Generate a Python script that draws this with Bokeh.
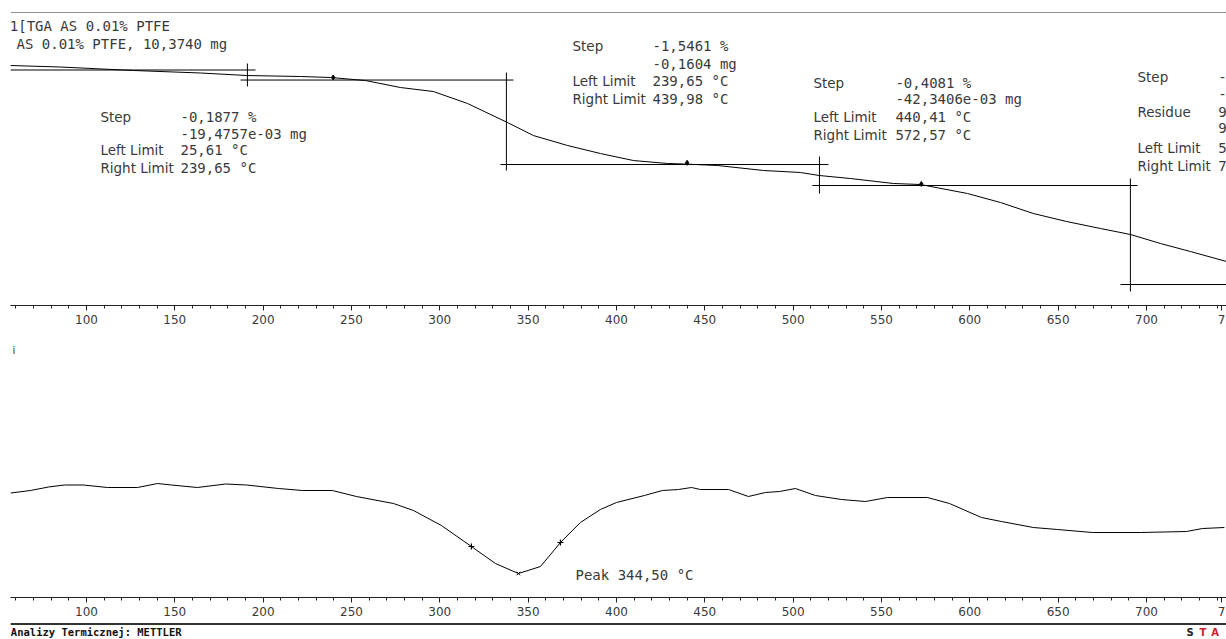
from bokeh.plotting import figure
from bokeh.layouts import column
from bokeh.models import Range1d, FixedTicker, Span
from bokeh.core.properties import value
from bokeh.embed import file_html
from bokeh.resources import INLINE

# ---------------- data ----------------
# TGA curve: temperature (°C) and mass (%)
tga_T = [57.0, 85.3, 126.6, 164.5, 191.1, 221.1, 238.1, 257.9, 277.7, 296.4,
         315.7, 338.3, 353.0, 372.3, 390.9, 409.6, 428.9, 437.9, 457.2, 483.2,
         504.1, 514.9, 532.4, 556.8, 572.1, 598.7, 617.4, 636.0, 654.7, 673.9,
         690.9, 707.9, 724.9, 745.3]
tga_mass = [100.000, 99.972, 99.908, 99.862, 99.815, 99.797, 99.779, 99.723, 99.594, 99.520,
            99.299, 98.948, 98.708, 98.524, 98.376, 98.247, 98.192, 98.183, 98.155, 98.063,
            98.026, 97.970, 97.915, 97.823, 97.804, 97.638, 97.472, 97.269, 97.122, 96.993,
            96.882, 96.716, 96.568, 96.384]

# DTG curve: temperature (°C) and derivative signal (arb. units)
dtg_T = [57.0, 68.3, 78.5, 87.6, 98.3, 111.9, 128.9, 140.2, 148.1, 162.8,
         178.7, 190.6, 208.7, 222.3, 239.2, 252.8, 273.8, 285.1, 300.9, 317.9,
         331.5, 344.5, 357.0, 368.3, 379.6, 390.9, 400.0, 415.8, 426.0, 435.1,
         442.5, 447.5, 463.4, 474.7, 484.3, 492.3, 501.3, 512.6, 527.4, 540.9,
         553.4, 576.0, 588.5, 606.6, 617.9, 636.0, 649.6, 669.4, 696.6, 722.6,
         731.7, 744.1]
dtg_v = [-0.125, -0.10, -0.065, -0.045, -0.045, -0.07, -0.07, -0.03, -0.045, -0.07,
         -0.035, -0.045, -0.08, -0.10, -0.10, -0.16, -0.23, -0.30, -0.45, -0.66,
         -0.83, -0.93, -0.86, -0.62, -0.42, -0.29, -0.22, -0.15, -0.10, -0.09,
         -0.07, -0.09, -0.09, -0.16, -0.12, -0.11, -0.08, -0.15, -0.19, -0.21,
         -0.17, -0.17, -0.23, -0.37, -0.41, -0.47, -0.49, -0.52, -0.52, -0.51,
         -0.48, -0.47]

# step evaluation: vertical line temperature and its span, level lines
step_mid_T = [191.1, 337.7, 514.9, 690.9]
step_vert_top = [100.037, 99.871, 98.321, 97.915]
step_vert_bot = [99.613, 98.063, 97.638, 95.830]
level_m = [99.917, 99.732, 98.173, 97.786, 95.959]
level_T0 = [57.0, 187.2, 334.3, 510.9, 685.3]
level_T1 = [195.7, 341.7, 520.0, 694.9, 745.3]

# limit markers on TGA curve
limit_T = [239.65, 439.98, 572.57]
limit_m = [99.779, 98.205, 97.814]

# DTG peak evaluation markers
dtg_mark_T = [317.9, 368.3]
dtg_mark_v = [-0.66, -0.62]
peak_T = [344.5]
peak_v = [-0.93]

ticks_major = [100, 150, 200, 250, 300, 350, 400, 450, 500, 550, 600, 650, 700]
ticks_minor = list(range(60, 750, 10))
edge_tick = 742.5          # carries the visible first digit of the cut "750" label
edge_label = "7"

FONT = "DejaVu Sans"
MONO = "DejaVu Sans Mono"
TXT = "#3a3a3a"
XR = Range1d(57.0, 745.3)


def base_fig(h, yr, top, bottom, axis=True):
    p = figure(width=1226, height=h, x_range=XR, y_range=yr,
               output_backend="svg", toolbar_location=None,
               y_axis_location=None, x_axis_location="below" if axis else None,
               min_border_left=10, min_border_right=0,
               min_border_top=top, min_border_bottom=bottom)
    p.outline_line_color = None
    p.background_fill_color = "white"
    p.border_fill_color = "white"
    p.grid.visible = False
    if axis:
        ax = p.xaxis[0]
        ax.ticker = FixedTicker(ticks=ticks_major + [edge_tick], minor_ticks=ticks_minor)
        ax.major_label_overrides = {edge_tick: edge_label}
        ax.axis_line_color = "#222"
        ax.major_tick_line_color = "#222"
        ax.minor_tick_line_color = "#222"
        ax.major_tick_in = 0
        ax.major_tick_out = 5
        ax.minor_tick_in = 0
        ax.minor_tick_out = 3
        ax.major_label_standoff = 4
        ax.major_label_text_font = FONT
        ax.major_label_text_font_size = "12px"
        ax.major_label_text_color = TXT
    return p


def text_block(p, x, ys, texts, size="13.5px", font=FONT):
    p.text(x=[x] * len(texts), y=ys, text=texts, text_font=value(font),
           text_font_size=size, text_color=TXT, text_baseline="middle",
           text_align="left")


# ---------------- top: TGA ----------------
p1 = base_fig(333, Range1d(95.572, 100.978), 12, 28)
p1.add_layout(Span(location=100.978, dimension="width", line_color="#222", line_width=1))

p1.line(tga_T, tga_mass, line_color="black", line_width=1)
p1.segment(x0=step_mid_T, y0=step_vert_top, x1=step_mid_T, y1=step_vert_bot,
           line_color="black", line_width=1)
p1.segment(x0=level_T0, y0=level_m, x1=level_T1, y1=level_m,
           line_color="black", line_width=1)
p1.scatter(limit_T, limit_m, marker="diamond", size=5, color="black")

text_block(p1, 56.6, [100.738], ["1[TGA AS 0.01% PTFE"], "14px", MONO)
text_block(p1, 60.4, [100.406], ["AS 0.01% PTFE, 10,3740 mg"], "14px", MONO)

text_block(p1, 107.9, [99.059, 98.432, 98.118], ["Step", "Left Limit", "Right Limit"])
text_block(p1, 153.2, [99.059, 98.745, 98.432, 98.118],
           ["-0,1877 %", "-19,4757e-03 mg", "25,61 °C", "239,65 °C"], "14px", MONO)

text_block(p1, 375.1, [100.351, 99.705, 99.373], ["Step", "Left Limit", "Right Limit"])
text_block(p1, 420.4, [100.351, 100.037, 99.705, 99.373],
           ["-1,5461 %", "-0,1604 mg", "239,65 °C", "439,98 °C"], "14px", MONO)

text_block(p1, 511.5, [99.686, 99.041, 98.727], ["Step", "Left Limit", "Right Limit"])
text_block(p1, 557.9, [99.686, 99.373, 99.041, 98.727],
           ["-0,4081 %", "-42,3406e-03 mg", "440,41 °C", "572,57 °C"], "14px", MONO)

text_block(p1, 694.9, [99.779, 99.133, 98.469, 98.155],
           ["Step", "Residue", "Left Limit", "Right Limit"])
# only the first characters of the right-most value column are visible
text_block(p1, 740.7, [99.779, 99.483, 99.133, 98.838, 98.469, 98.155],
           ["-", "-", "9", "9", "5", "7"], "14px", MONO)

# ---------------- bottom: DTG ----------------
p2 = base_fig(288, Range1d(-1.17, 1.40), 7, 24)
p2.line(dtg_T, dtg_v, line_color="black", line_width=1)
p2.scatter(dtg_mark_T, dtg_mark_v, marker="cross", size=6, color="black", line_width=1.2)
p2.scatter(peak_T, peak_v, marker="x", size=5, color="black", line_width=1)
text_block(p2, 376.8, [-0.94], ["Peak 344,50 °C"], "14px", MONO)
text_block(p2, 58.2, [1.30], ["i"], "10px")

# ---------------- footer ----------------
p3 = base_fig(18, Range1d(0, 18), 0, 0, axis=False)
p3.add_layout(Span(location=15.5, dimension="width", line_color="#333", line_width=2))
p3.text(x=[57.2], y=[7.5], text=["Analizy Termicznej: METTLER"], text_font=value(MONO),
        text_font_size="10.5px", text_font_style="bold", text_color="#111",
        text_baseline="middle", text_align="left")
p3.text(x=[722.6, 730.0, 736.6], y=[7.5, 7.5, 7.5], text=["S", "T", "A"],
        text_color=["#222", "#d0202a", "#d0202a"], text_font=value(FONT),
        text_font_size="10px", text_font_style="bold",
        text_baseline="middle", text_align="left")

layout = column(p1, p2, p3, spacing=0)
open("out.html", "w").write(file_html(layout, INLINE))
